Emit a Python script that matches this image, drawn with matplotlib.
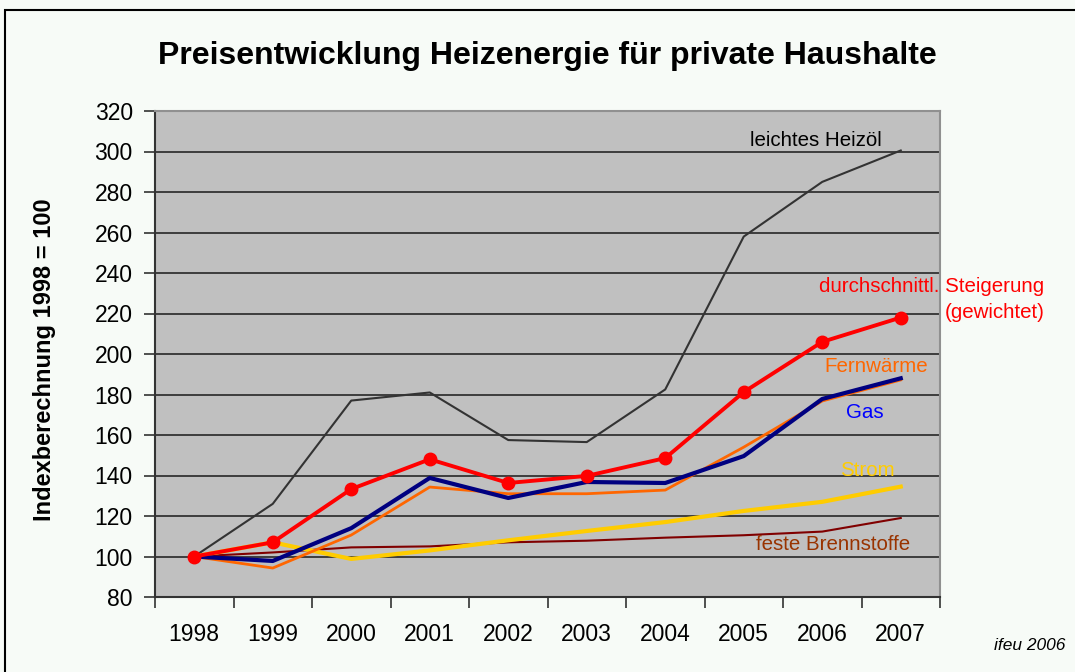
import matplotlib
matplotlib.use("Agg")
import matplotlib.pyplot as plt
from matplotlib.patches import Rectangle

plt.rcParams['font.family'] = ['Liberation Sans', 'DejaVu Sans']

years = ['1998', '1999', '2000', '2001', '2002', '2003', '2004', '2005', '2006', '2007']
heizoel = [100, 126, 177, 181, 157.5, 156.5, 182.5, 258, 285, 300.5]
strom = [100, 107, 98.8, 103, 108, 112.6, 117, 122.5, 127, 134.5]
feste = [100, 102, 104.5, 105, 107, 107.8, 109.3, 110.5, 112.3, 119]
fernwaerme = [100, 94.3, 110.6, 134.3, 131, 131, 132.8, 154, 176.8, 187.2]
gas = [100, 97.8, 114, 138.8, 128.9, 136.8, 136.3, 149.6, 177.8, 188]
durchschnitt = [100, 107, 133.3, 148, 136.3, 139.8, 148.6, 181.2, 206, 218]
y_ticks = list(range(80, 321, 20))

fig = plt.figure(figsize=(10.75, 6.72), dpi=100)
fig.patch.set_facecolor('#F7FBF7')
fig.patches.append(Rectangle((5/1075, -0.1), 1.2, (672-10)/672 + 0.1, transform=fig.transFigure,
                             fill=False, edgecolor='black', linewidth=1.5))

ax = fig.add_axes([155/1075, (672-597)/672, (940-155)/1075, (597-111)/672])
ax.set_facecolor('#C0C0C0')

x = list(range(len(years)))
ax.plot(x, heizoel, color='#333333', lw=1.5, zorder=3)
ax.plot(x, feste, color='#800000', lw=1.5, zorder=3)
ax.plot(x, strom, color='#FFCC00', lw=3, zorder=3)
ax.plot(x, fernwaerme, color='#FF6600', lw=2, zorder=3)
ax.plot(x, gas, color='#000080', lw=3, zorder=3)
ax.plot(x, durchschnitt, color='#FF0000', lw=2.8, marker='o', markersize=9, zorder=4)

ax.set_xlim(-0.5, len(years) - 0.5)
ax.set_ylim(80, 320)
ax.set_yticks(y_ticks)
ax.set_yticklabels([str(v) for v in y_ticks], fontsize=16.5)
ax.set_xticks([i + 0.5 for i in range(-1, len(years))])
ax.set_xticklabels([])
ax.set_xticks(x, minor=True)
ax.set_xticklabels(years, minor=True, fontsize=16.5)
ax.tick_params(axis='x', which='minor', length=0, pad=19)
ax.tick_params(axis='x', which='major', length=8, width=1.2, color='#333333', direction='out')
ax.tick_params(axis='y', length=8, width=1.2, color='#333333', direction='out', pad=8)
ax.grid(axis='y', color='#333333', lw=1.3, zorder=1)
ax.set_axisbelow(True)

for side in ['top', 'right']:
    ax.spines[side].set_color('#909090')
    ax.spines[side].set_linewidth(1.5)
for side in ['left', 'bottom']:
    ax.spines[side].set_color('#333333')
    ax.spines[side].set_linewidth(1.5)

fig.text(45/1075, 1 - 360/672, 'Indexberechnung 1998 = 100', rotation=90,
         ha='center', va='center', fontsize=17, fontweight='bold')

fig.text(547/1075, 1 - 56/672, 'Preisentwicklung Heizenergie für private Haushalte',
         ha='center', va='center', fontsize=23, fontweight='bold')

fs = 14.8
fig.text(816/1075, 1 - 141/672, 'leichtes Heizöl', ha='center', va='center', fontsize=fs, color='black')
fig.text(932/1075, 1 - 287/672, 'durchschnittl. Steigerung', ha='center', va='center', fontsize=fs, color='#FF0000')
fig.text(995/1075, 1 - 313/672, '(gewichtet)', ha='center', va='center', fontsize=fs, color='#FF0000')
fig.text(876/1075, 1 - 367/672, 'Fernwärme', ha='center', va='center', fontsize=fs, color='#FF6600')
fig.text(865/1075, 1 - 412/672, 'Gas', ha='center', va='center', fontsize=fs, color='#0000FF')
fig.text(867/1075, 1 - 471/672, 'Strom', ha='center', va='center', fontsize=fs, color='#FFCC00')
fig.text(833/1075, 1 - 545/672, 'feste Brennstoffe', ha='center', va='center', fontsize=fs, color='#993300')
fig.text(1030/1075, 1 - 645/672, 'ifeu 2006', ha='center', va='center', fontsize=12.5, style='italic', color='black')

fig.savefig('out.png', dpi=100, facecolor=fig.get_facecolor())
